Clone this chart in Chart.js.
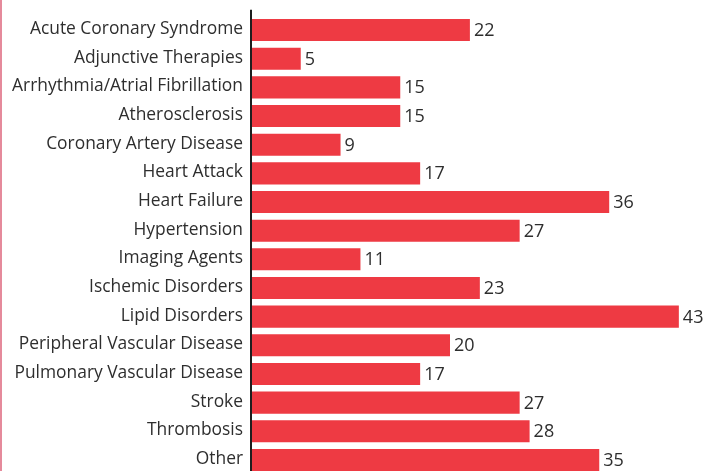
<!DOCTYPE html>
<html>
<head>
<meta charset="utf-8">
<script src="https://cdn.jsdelivr.net/npm/chart.js@4"></script>
<style>
  html, body { margin: 0; padding: 0; background: #fff; overflow: hidden; }
  #wrap { position: relative; width: 708px; height: 476px; }
  #edge { position: absolute; left: 0; top: 0; width: 2px; height: 471px; background: #e58a9b; }
</style>
</head>
<body>
<div id="wrap">
  <canvas id="chart" width="708" height="476"></canvas>
  <div id="edge"></div>
</div>
<script>
// Categories and counts, top to bottom
const categories = [
  'Acute Coronary Syndrome', 'Adjunctive Therapies', 'Arrhythmia/Atrial Fibrillation',
  'Atherosclerosis', 'Coronary Artery Disease', 'Heart Attack', 'Heart Failure',
  'Hypertension', 'Imaging Agents', 'Ischemic Disorders', 'Lipid Disorders',
  'Peripheral Vascular Disease', 'Pulmonary Vascular Disease', 'Stroke', 'Thrombosis', 'Other'
];
const counts = [22, 5, 15, 15, 9, 17, 36, 27, 11, 23, 43, 20, 17, 27, 28, 35];

const BAR_RED = '#ee3a43';
const TEXT = '#2e2e2e';
const FONT = "'Open Sans', 'DejaVu Sans', sans-serif";

// value labels at bar ends
const valueLabels = {
  id: 'valueLabels',
  afterDatasetsDraw(chart) {
    const ctx = chart.ctx;
    const meta = chart.getDatasetMeta(0);
    ctx.save();
    ctx.font = `18px ${FONT}`;
    ctx.fillStyle = TEXT;
    ctx.textAlign = 'left';
    ctx.textBaseline = 'middle';
    meta.data.forEach((bar, i) => {
      ctx.fillText(String(counts[i]), bar.x + 4, bar.y + 1);
    });
    ctx.restore();
  }
};

// dark axis line, sticks up a little above the first bar
const axisLine = {
  id: 'axisLine',
  afterDatasetsDraw(chart) {
    const { ctx, chartArea } = chart;
    ctx.save();
    ctx.strokeStyle = '#1e1e1e';
    ctx.lineWidth = 2;
    ctx.beginPath();
    ctx.moveTo(chartArea.left, chartArea.top - 6);
    ctx.lineTo(chartArea.left, chartArea.bottom);
    ctx.stroke();
    ctx.restore();
  }
};

new Chart(document.getElementById('chart').getContext('2d'), {
  type: 'bar',
  data: {
    labels: categories,
    datasets: [{
      data: counts,
      backgroundColor: BAR_RED,
      borderWidth: 0,
      categoryPercentage: 1,
      barPercentage: 0.77,
    }],
  },
  options: {
    indexAxis: 'y',
    responsive: false,
    animation: false,
    layout: { padding: { top: 15.7, bottom: 1.7, right: 9.25, left: 0 } },
    plugins: { legend: { display: false }, tooltip: { enabled: false } },
    scales: {
      x: { display: false, min: 0, max: 45 },
      y: {
        grid: { display: false, drawTicks: false },
        border: { display: false },
        ticks: { color: TEXT, font: { family: FONT, size: 17.4 }, padding: 8, labelOffset: -1 },
        afterFit(scale) {
          scale.width = 251;
          scale.paddingTop = 0;
          scale.paddingBottom = 0;
        },
      },
    },
  },
  plugins: [valueLabels, axisLine],
});
</script>
</body>
</html>
